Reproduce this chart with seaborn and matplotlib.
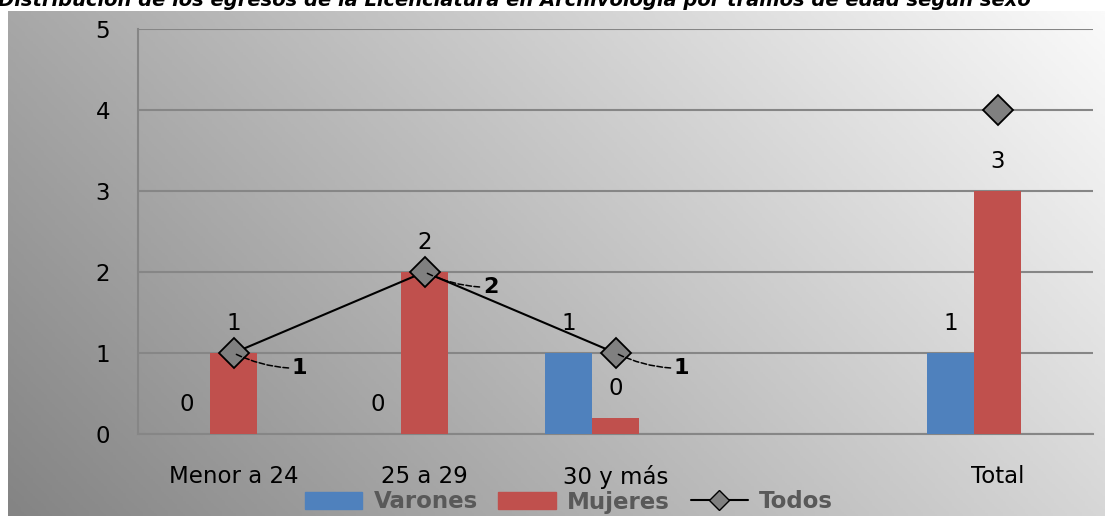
import numpy as np
import pandas as pd
import matplotlib
matplotlib.use('Agg')
import matplotlib.pyplot as plt
from matplotlib.colors import LinearSegmentedColormap
from matplotlib.patches import Patch
from matplotlib.lines import Line2D
import seaborn as sns

# datos
categorias = ['Menor a 24', '25 a 29', '30 y más', ' ', 'Total']
varones = [0, 0, 1, np.nan, 1]
mujeres = [1, 2, 0.2, np.nan, 3]
todos = [1, 2, 1, np.nan, 4]
series = ['Varones', 'Mujeres', 'Todos']
colores = ['#4F81BD', '#C0504D', '#808080']
titulo = 'Distribución de los egresos de la Licenciatura en Archivología por tramos de edad según sexo'

sns.set_style('white')
plt.rcParams['font.family'] = ['DejaVu Sans']
plt.rcParams['text.color'] = 'black'
plt.rcParams['xtick.labelcolor'] = 'black'
plt.rcParams['ytick.labelcolor'] = 'black'

W, H = 1105, 516
fig = plt.figure(figsize=(W / 100, H / 100), dpi=100)

# fondo con degradado gris (mas oscuro abajo a la izquierda)
bg = fig.add_axes([8 / W, 0, 1 - 8 / W, 505 / H])
gx, gy = np.meshgrid(np.linspace(0, 1, 400), np.linspace(0, 1, 200))
cmap = LinearSegmentedColormap.from_list('fondo', ['#848484', '#fafafa'])
bg.imshow(0.7 * gx + 0.3 * gy, cmap=cmap, origin='lower', aspect='auto', vmin=0, vmax=1)
bg.axis('off')

fig.text(-0.002, 1.0, titulo, fontsize=14, fontweight='bold', fontstyle='italic',
         ha='left', va='center')

ax = fig.add_axes([138 / W, 82 / H, (1093 - 138) / W, (434 - 29) / H])
ax.patch.set_alpha(0)

df = pd.DataFrame({
    'categoria': categorias * 2,
    'sexo': ['Varones'] * len(categorias) + ['Mujeres'] * len(categorias),
    'valor': varones + mujeres,
}).dropna()

sns.barplot(data=df, x='categoria', y='valor', hue='sexo', order=categorias,
            hue_order=series, palette=colores, width=0.74, saturation=1,
            linewidth=0, edgecolor='none', legend=False, ax=ax, zorder=3)

for c in ax.containers:
    ax.bar_label(c, fmt='{:.0f}', padding=13, fontsize=16.5, color='black')

pos = np.arange(len(categorias))
ax.plot(pos, todos, color='black', lw=1.5, marker='D', ms=15,
        mfc='#808080', mec='black', mew=1.3, zorder=5)

for i in range(3):
    ax.annotate(f'{todos[i]:.0f}', xy=(pos[i], todos[i]), xytext=(42, -11),
                textcoords='offset points', fontsize=16, fontweight='bold',
                ha='left', va='center', zorder=6, color='black',
                arrowprops=dict(arrowstyle='-', ls='--', lw=1.1, color='black',
                                shrinkA=0, shrinkB=1,
                                connectionstyle='arc3,rad=-0.12'))

gris = '#868686'
ax.set_ylim(0, 5)
ax.set_xlim(-0.5, len(categorias) - 0.5)
ax.set_yticks(range(6))
ax.yaxis.grid(True, color=gris, lw=1.5)
ax.set_axisbelow(True)
ax.tick_params(axis='y', length=6, width=1.5, color=gris, pad=14, labelsize=16.5)
ax.tick_params(axis='x', which='major', length=0, pad=22, labelsize=16.5)
ax.set_xticks(np.arange(-0.5, len(categorias)), minor=True)
ax.tick_params(axis='x', which='minor', length=6, width=1.2, color=gris, direction='out')
for s in ['top', 'right']:
    ax.spines[s].set_visible(False)
for s in ['left', 'bottom']:
    ax.spines[s].set_color(gris)
    ax.spines[s].set_linewidth(1.5)
ax.set_xlabel('')
ax.set_ylabel('')

handles = [Patch(color=colores[0]), Patch(color=colores[1]),
           Line2D([], [], color='black', lw=1.5, marker='D', ms=10,
                  mfc='#808080', mec='black')]
fig.legend(handles, series, loc='center', bbox_to_anchor=(569 / W, 1 - 502 / H),
           ncol=3, frameon=False, handlelength=2.5, handleheight=0.75,
           columnspacing=0.9, handletextpad=0.5,
           prop={'size': 16.5, 'weight': 'bold'}, labelcolor='#595959')

fig.savefig('out.png', dpi=100)
